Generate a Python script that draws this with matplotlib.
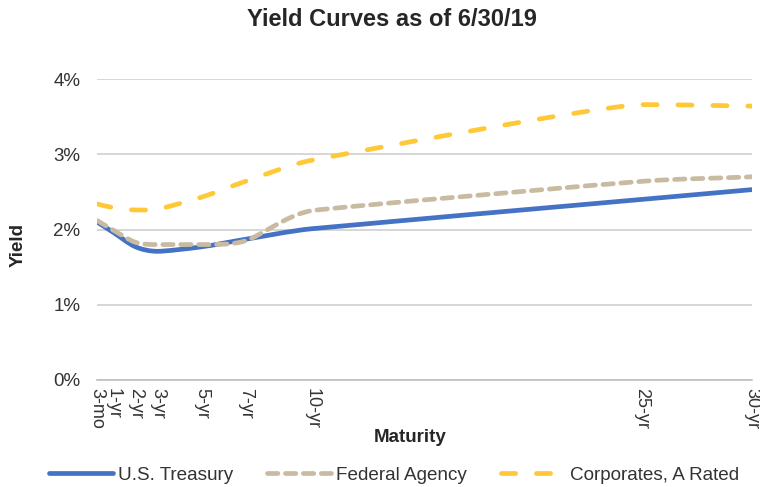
import matplotlib
matplotlib.use("Agg")
import matplotlib.pyplot as plt
from matplotlib.path import Path
from matplotlib.patches import PathPatch
from matplotlib.lines import Line2D
import numpy as np

plt.rcParams['font.family'] = ['Liberation Sans', 'DejaVu Sans']

maturities = [0.25, 1, 2, 3, 5, 7, 10, 25, 30]
tick_labels = ["3-mo", "1-yr", "2-yr", "3-yr", "5-yr", "7-yr", "10-yr", "25-yr", "30-yr"]
treasury = [2.10, 1.96, 1.77, 1.71, 1.77, 1.87, 2.01, 2.40, 2.53]
agency = [2.12, 1.99, 1.83, 1.80, 1.80, 1.85, 2.25, 2.64, 2.70]
corporates = [2.34, 2.29, 2.26, 2.27, 2.43, 2.64, 2.92, 3.66, 3.64]

series = [
    ("U.S. Treasury", treasury, "#4472C4", "solid"),
    ("Federal Agency", agency, "#C9BBA2", (0, (2.2, 1.6))),
    ("Corporates, A Rated", corporates, "#FFC836", (0, (3.0, 4.4))),
]


def smooth_path(ax, xs, ys):
    """Smooth Bezier path through the data points (built in display space)."""
    pts = ax.transData.transform(np.column_stack([xs, ys]))
    n = len(pts)
    seg = np.linalg.norm(np.diff(pts, axis=0), axis=1)
    tang = np.zeros((n, 2))
    hlen = np.zeros(n)
    for i in range(n):
        if i == 0:
            d = pts[1] - pts[0]
            hlen[i] = seg[0] / 3
        elif i == n - 1:
            d = pts[-1] - pts[-2]
            hlen[i] = seg[-1] / 3
        else:
            d1 = pts[i] - pts[i - 1]
            d2 = pts[i + 1] - pts[i]
            if d1[1] * d2[1] <= 0:
                d = np.array([1.0, 0.0])
            else:
                d = pts[i + 1] - pts[i - 1]
            hlen[i] = min(seg[i - 1], seg[i]) / 3
        tang[i] = d / np.linalg.norm(d)
    verts = [pts[0]]
    codes = [Path.MOVETO]
    for i in range(n - 1):
        c1 = pts[i] + tang[i] * hlen[i]
        c2 = pts[i + 1] - tang[i + 1] * hlen[i + 1]
        verts += [c1, c2, pts[i + 1]]
        codes += [Path.CURVE4] * 3
    verts = ax.transData.inverted().transform(np.array(verts))
    return Path(verts, codes)


fig = plt.figure(figsize=(7.6, 4.87), dpi=100)
ax = fig.add_axes([97 / 760, 1 - 380 / 487, (752 - 97) / 760, (380 - 79) / 487])
ax.set_xlim(0.25, 30)
ax.set_ylim(0, 4)

for label, vals, color, ls in series:
    patch = PathPatch(smooth_path(ax, maturities, vals), fill=False, edgecolor=color,
                      linewidth=3.4, linestyle=ls, capstyle='round', joinstyle='round',
                      zorder=3)
    ax.add_patch(patch)

ax.set_yticks([0, 1, 2, 3, 4])
ax.set_yticklabels(["0%", "1%", "2%", "3%", "4%"], fontsize=13.5, color="#333333")
ax.set_xticks(maturities)
ax.set_xticklabels(tick_labels, rotation=270, fontsize=13, color="#333333", va="top", ha="center")
ax.tick_params(axis='y', length=0, pad=12)
ax.tick_params(axis='x', length=0, pad=6)
ax.grid(axis='y', color="#D0D0D0", linewidth=1.2)
ax.set_axisbelow(True)
for s in ["top", "right", "left"]:
    ax.spines[s].set_visible(False)
ax.spines["bottom"].set_color("#BFBFBF")
ax.spines["bottom"].set_linewidth(1.2)
ax.spines["bottom"].set_zorder(1)

fig.text(392 / 760, 1 - 20 / 487, "Yield Curves as of 6/30/19", ha="center", va="center",
         fontsize=17, fontweight="bold", color="#262626")
fig.text(410 / 760, 1 - 437 / 487, "Maturity", ha="center", va="center",
         fontsize=13.5, fontweight="bold", color="#262626")
fig.text(18 / 760, 1 - 245 / 487, "Yield", ha="center", va="center", rotation=90,
         fontsize=13.5, fontweight="bold", color="#262626")

handles = []
for label, vals, color, ls in series:
    h = Line2D([], [], color=color, linewidth=3.4, linestyle=ls,
               solid_capstyle='round', dash_capstyle='round')
    handles.append(h)
fig.legend(handles, [s[0] for s in series], loc="center", bbox_to_anchor=(394 / 760, 1 - 475 / 487),
           ncol=3, frameon=False, fontsize=13.6, handlelength=3.4, columnspacing=1.8,
           handletextpad=0.25, labelcolor="#333333", borderaxespad=0, borderpad=0.2)

fig.savefig("out.png", dpi=100)
